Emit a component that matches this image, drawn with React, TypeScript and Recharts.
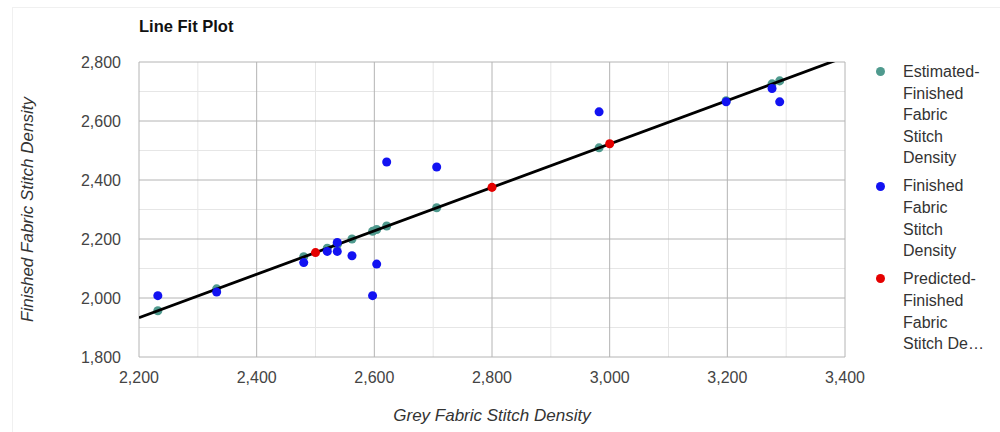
import React from 'react';
import { ScatterChart, Scatter, XAxis, YAxis, CartesianGrid, ZAxis } from 'recharts';

// Grey fabric stitch density (x) for each observation
const greyDensity = [2232, 2332, 2480, 2520, 2537, 2537, 2562, 2597, 2604, 2621, 2706, 2982, 3198, 3276, 3289];
// Observed finished fabric stitch density
const finishedDensity = [2008, 2020, 2120, 2158, 2188, 2158, 2143, 2008, 2115, 2461, 2444, 2631, 2665, 2710, 2665];
// Estimated (fitted) finished fabric stitch density
const estimatedDensity = [1957, 2031, 2140, 2169, 2182, 2182, 2200, 2226, 2232, 2244, 2306, 2509, 2669, 2726, 2736];
// Predicted values
const predictedX = [2500, 2800, 3000];
const predictedY = [2154, 2375, 2523];
// Fitted line end points
const fitLineX = [2200, 3400];
const fitLineY = [1933, 2817];

const xTicks = [2200, 2300, 2400, 2500, 2600, 2700, 2800, 2900, 3000, 3100, 3200, 3300, 3400];
const yTicks = [1800, 1900, 2000, 2100, 2200, 2300, 2400, 2500, 2600, 2700, 2800];

const seriesNames = [
  'Estimated-Finished Fabric Stitch Density',
  'Finished Fabric Stitch Density',
  'Predicted-Finished Fabric Stitch Density',
];
const legendLines = [
  ['Estimated-', 'Finished', 'Fabric', 'Stitch', 'Density'],
  ['Finished', 'Fabric', 'Stitch', 'Density'],
  ['Predicted-', 'Finished', 'Fabric', 'Stitch De…'],
];
const seriesColors = ['#4f9a8e', '#1212f2', '#e50000'];

const estimatedData = greyDensity.map((x, i) => ({ x, y: estimatedDensity[i] }));
const finishedData = greyDensity.map((x, i) => ({ x, y: finishedDensity[i] }));
const predictedData = predictedX.map((x, i) => ({ x, y: predictedY[i] }));
const lineData = fitLineX.map((x, i) => ({ x, y: fitLineY[i] }));

const FONT = '"Liberation Sans", Arial, sans-serif';
const MAJOR = '#b4b4b4';
const MINOR = '#e6e6e6';

const fmt = (v: number) => (v % 200 === 0 ? v.toLocaleString('en-US') : '');

const gridLine = (count: number, wantMajor: boolean) => (p: any) => {
  const idx = p.index as number;
  if (idx >= count) return <g key={p.key} />;
  const isMajor = idx % 2 === 0;
  if (isMajor !== wantMajor) return <g key={p.key} />;
  return (
    <line
      key={p.key}
      x1={p.x1}
      y1={p.y1}
      x2={p.x2}
      y2={p.y2}
      stroke={isMajor ? MAJOR : MINOR}
      strokeWidth={1}
      fill="none"
    />
  );
};

const NoShape = () => <g />;

export default function App() {
  return (
    <div
      style={{
        position: 'absolute',
        left: 0,
        top: 0,
        width: 1000,
        height: 432,
        background: '#fff',
        fontFamily: FONT,
        overflow: 'hidden',
      }}
    >
      <div
        style={{
          position: 'absolute',
          left: 12,
          top: 7,
          width: 1000,
          height: 440,
          borderTop: '1px solid #f0f0f0',
          borderLeft: '1px solid #f0f0f0',
        }}
      />
      <div
        style={{
          position: 'absolute',
          left: 139,
          top: 17.5,
          fontSize: 16.5,
          lineHeight: '16px',
          fontWeight: 'bold',
          color: '#111',
          whiteSpace: 'nowrap',
        }}
      >
        Line Fit Plot
      </div>
      <div style={{ position: 'absolute', left: 0, top: 0 }}>
        <ScatterChart width={1000} height={432} margin={{ top: 62, right: 155, bottom: 0, left: 0 }}>
          <CartesianGrid
            horizontal={gridLine(yTicks.length, false)}
            vertical={gridLine(xTicks.length, false)}
          />
          <CartesianGrid
            horizontal={gridLine(yTicks.length, true)}
            vertical={gridLine(xTicks.length, true)}
          />
          <XAxis
            type="number"
            dataKey="x"
            domain={[2200, 3400]}
            ticks={xTicks}
            interval={0}
            allowDataOverflow
            tickFormatter={fmt}
            tickSize={0}
            tickMargin={15}
            axisLine={false}
            tickLine={false}
            height={75}
            tick={{ fontSize: 16, fill: '#444', fontFamily: FONT }}
            label={{
              value: 'Grey Fabric Stitch Density',
              position: 'insideBottom',
              offset: 11,
              style: { fontSize: 17, fontStyle: 'italic', fill: '#333', fontFamily: FONT },
            }}
          />
          <YAxis
            type="number"
            dataKey="y"
            domain={[1800, 2800]}
            ticks={yTicks}
            interval={0}
            allowDataOverflow
            tickFormatter={fmt}
            tickSize={0}
            tickMargin={18}
            axisLine={false}
            tickLine={false}
            width={139}
            tick={{ fontSize: 16, fill: '#444', fontFamily: FONT }}
            label={{
              value: 'Finished Fabric Stitch Density',
              angle: -90,
              position: 'insideLeft',
              offset: 27,
              style: { fontSize: 17, fontStyle: 'italic', fill: '#333', fontFamily: FONT, textAnchor: 'middle' },
            }}
          />
          <ZAxis range={[80, 80]} />
          <Scatter
            name={seriesNames[0]}
            data={estimatedData}
            fill={seriesColors[0]}
            isAnimationActive={false}
          />
          <Scatter
            name="fit"
            data={lineData}
            line={{ stroke: '#000', strokeWidth: 2.8 }}
            shape={NoShape}
            legendType="none"
            isAnimationActive={false}
          />
          <Scatter
            name={seriesNames[1]}
            data={finishedData}
            fill={seriesColors[1]}
            isAnimationActive={false}
          />
          <Scatter
            name={seriesNames[2]}
            data={predictedData}
            fill={seriesColors[2]}
            isAnimationActive={false}
          />
        </ScatterChart>
      </div>
      <div style={{ position: 'absolute', left: 870, top: 61, width: 130 }}>
        {legendLines.map((lines, i) => (
          <div
            key={i}
            style={{
              position: 'relative',
              paddingLeft: 33,
              marginBottom: 6.5,
              fontSize: 16,
              lineHeight: '21.6px',
              color: '#333',
            }}
          >
            <span
              style={{
                position: 'absolute',
                left: 5.5,
                top: 6.1,
                width: 9,
                height: 9,
                borderRadius: '50%',
                background: seriesColors[i],
              }}
            />
            {lines.map((t, j) => (
              <div key={j} style={{ whiteSpace: 'nowrap' }}>
                {t}
              </div>
            ))}
          </div>
        ))}
      </div>
    </div>
  );
}
